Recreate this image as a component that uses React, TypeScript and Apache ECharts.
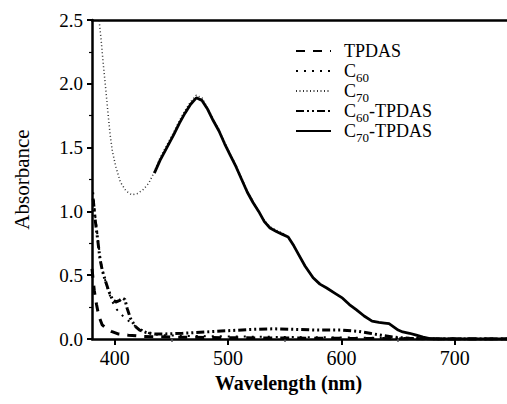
import React, { useEffect, useRef } from "react";
import * as echarts from "echarts";

// ---- data (wavelength nm, absorbance) ----
const tpdasWl = [380, 382, 384, 386, 389, 393, 397, 403, 412, 425, 450, 500, 600, 700, 746];
const tpdasAbs = [0.55, 0.38, 0.27, 0.18, 0.11, 0.08, 0.06, 0.04, 0.03, 0.02, 0.015, 0.01, 0.005, 0.0, 0.0];

const c60Wl = [381, 383, 385, 387, 389, 392, 395, 398, 402, 406, 410, 415, 420, 425, 432, 440, 460, 500, 560, 620, 680, 746];
const c60Abs = [1.15, 0.95, 0.8, 0.65, 0.54, 0.45, 0.36, 0.29, 0.23, 0.19, 0.16, 0.12, 0.09, 0.065, 0.04, 0.03, 0.025, 0.02, 0.015, 0.01, 0.005, 0.0];

const c70Wl = [386, 388, 390, 392, 394, 396, 398, 401, 405, 410, 415, 420, 425, 430, 435, 440, 446, 452, 457, 462, 467, 472, 477, 482, 487, 492, 497, 502, 507, 512, 517, 522, 527, 532, 537, 543, 548, 553, 558, 563, 568, 575, 581, 587, 594, 601, 607, 613, 620, 627, 633, 638, 642, 646, 650, 654, 660, 666, 672, 677, 685, 700, 720, 746];
const c70Abs = [2.52, 2.35, 2.15, 1.97, 1.78, 1.6, 1.47, 1.35, 1.23, 1.16, 1.13, 1.14, 1.17, 1.22, 1.31, 1.42, 1.52, 1.62, 1.71, 1.79, 1.86, 1.91, 1.89, 1.81, 1.72, 1.64, 1.54, 1.45, 1.36, 1.26, 1.16, 1.08, 1.0, 0.93, 0.88, 0.85, 0.83, 0.8, 0.73, 0.65, 0.57, 0.48, 0.43, 0.4, 0.36, 0.32, 0.27, 0.23, 0.18, 0.14, 0.13, 0.125, 0.12, 0.095, 0.07, 0.055, 0.045, 0.03, 0.015, 0.005, 0.0, 0.0, 0.0, 0.0];

const c60TpdasWl = [381, 383, 385, 387, 389, 392, 395, 398, 401, 404, 407, 409, 411, 414, 418, 422, 428, 435, 445, 460, 480, 500, 520, 540, 560, 580, 600, 615, 625, 635, 645, 660, 680, 746];
const c60TpdasAbs = [1.1, 0.92, 0.78, 0.63, 0.54, 0.45, 0.37, 0.31, 0.29, 0.3, 0.32, 0.31, 0.24, 0.16, 0.1, 0.07, 0.05, 0.04, 0.04, 0.045, 0.055, 0.065, 0.075, 0.08, 0.075, 0.07, 0.07, 0.06, 0.045, 0.03, 0.015, 0.005, 0.0, 0.0];

const c70TpdasWl = [435, 440, 446, 452, 457, 462, 467, 472, 477, 482, 487, 492, 497, 502, 507, 512, 517, 522, 527, 532, 537, 543, 548, 553, 558, 563, 568, 575, 581, 587, 594, 601, 607, 613, 620, 627, 633, 638, 642, 646, 650, 654, 660, 666, 672, 677, 685, 700, 720, 746];
const c70TpdasAbs = [1.3, 1.4, 1.5, 1.6, 1.69, 1.77, 1.84, 1.89, 1.87, 1.8, 1.71, 1.63, 1.53, 1.44, 1.35, 1.25, 1.15, 1.07, 1.0, 0.92, 0.87, 0.84, 0.82, 0.8, 0.73, 0.65, 0.57, 0.48, 0.43, 0.4, 0.36, 0.32, 0.27, 0.23, 0.18, 0.14, 0.13, 0.125, 0.12, 0.095, 0.07, 0.055, 0.045, 0.03, 0.015, 0.005, 0.0, 0.0, 0.0, 0.0];

const xMajorTicks = [400, 500, 600, 700];
const xMinorTicks = [450, 550, 650];

const legendLabels: Record<string, string> = {
  TPDAS: "{n|TPDAS}",
  C60: "{n|C}{s|60}",
  C70: "{n|C}{s|70}",
  "C60-TPDAS": "{n|C}{s|60}{n|-TPDAS}",
  "C70-TPDAS": "{n|C}{s|70}{n|-TPDAS}",
};

const zip = (xs: number[], ys: number[]) => xs.map((x, i) => [x, ys[i]]);

const FONT = "Liberation Serif";

export default function App() {
  const ref = useRef<HTMLDivElement>(null);
  useEffect(() => {
    if (!ref.current) return;
    const chart = echarts.init(ref.current, undefined, { renderer: "svg" });
    const axisLine = { show: true, lineStyle: { color: "#000", width: 2.5 } };
    chart.setOption({
      animation: false,
      backgroundColor: "#fff",
      grid: { left: 92, top: 20, right: 0, bottom: 65, containLabel: false },
      legend: {
        orient: "vertical",
        left: 290,
        top: 33,
        itemWidth: 35,
        itemHeight: 14,
        itemGap: -6,
        itemStyle: { opacity: 0 },
        data: ["TPDAS", "C60", "C70", "C60-TPDAS", "C70-TPDAS"],
        formatter: (name: string) => legendLabels[name] ?? name,
        textStyle: {
          fontFamily: FONT,
          color: "#000",
          fontSize: 18,
          lineHeight: 26,
          padding: [0, 0, 0, 8],
          rich: {
            n: { fontFamily: FONT, fontSize: 18, lineHeight: 26, color: "#000" },
            s: { fontFamily: FONT, fontSize: 13, lineHeight: 26, verticalAlign: "bottom", color: "#000" },
          },
        },
      },
      xAxis: [
        {
          type: "value",
          min: 380,
          max: 746,
          position: "bottom",
          axisLine,
          splitLine: { show: false },
          axisTick: { show: true, length: 6, lineStyle: { width: 2 }, customValues: xMajorTicks },
          axisLabel: { customValues: xMajorTicks, fontSize: 20, fontFamily: FONT, color: "#000", margin: 9 },
          name: "Wavelength (nm)",
          nameLocation: "middle",
          nameGap: 31,
          nameTextStyle: { fontFamily: FONT, fontSize: 20, fontWeight: "bold", color: "#000", padding: [0, 22, 0, 0] },
        },
        {
          type: "value",
          min: 380,
          max: 746,
          position: "top",
          axisLine,
          splitLine: { show: false },
          axisTick: { show: false },
          axisLabel: { show: false },
        },
        {
          type: "value",
          min: 380,
          max: 746,
          position: "bottom",
          axisLine: { show: false },
          splitLine: { show: false },
          axisTick: { show: true, length: 3, lineStyle: { width: 1.5 }, customValues: xMinorTicks },
          axisLabel: { show: false },
        },
      ],
      yAxis: {
        type: "value",
        min: 0,
        max: 2.5,
        interval: 0.5,
        axisLine,
        splitLine: { show: false },
        axisTick: { show: true, length: 5, lineStyle: { width: 2 } },
        minorTick: { show: true, splitNumber: 2, length: 3, lineStyle: { color: "#000", width: 1.2 } },
        axisLabel: {
          fontSize: 19,
          fontFamily: FONT,
          color: "#000",
          margin: 9,
          formatter: (v: number) => v.toFixed(1),
        },
        name: "Absorbance",
        nameLocation: "middle",
        nameGap: 60,
        nameTextStyle: { fontFamily: FONT, fontSize: 21, color: "#000" },
      },
      series: [
        {
          name: "TPDAS",
          type: "line",
          data: zip(tpdasWl, tpdasAbs),
          symbol: "none",
          lineStyle: { color: "#000", width: 3, type: [9, 8] },
          itemStyle: { color: "#000" },
        },
        {
          name: "C60",
          type: "line",
          data: zip(c60Wl, c60Abs),
          symbol: "none",
          lineStyle: { color: "#000", width: 2, type: [2, 6] },
          itemStyle: { color: "#000" },
        },
        {
          name: "C70",
          type: "line",
          data: zip(c70Wl, c70Abs),
          symbol: "none",
          lineStyle: { color: "#333", width: 1.5, type: [1, 2.5] },
          itemStyle: { color: "#333" },
        },
        {
          name: "C60-TPDAS",
          type: "line",
          data: zip(c60TpdasWl, c60TpdasAbs),
          symbol: "none",
          lineStyle: { color: "#000", width: 3, type: [8, 3, 2, 3, 2, 3] },
          itemStyle: { color: "#000" },
        },
        {
          name: "C70-TPDAS",
          type: "line",
          data: zip(c70TpdasWl, c70TpdasAbs),
          symbol: "none",
          lineStyle: { color: "#000", width: 2.8, type: "solid" },
          itemStyle: { color: "#000" },
        },
      ],
    });
    return () => chart.dispose();
  }, []);
  return (
    <div
      ref={ref}
      style={{ position: "fixed", left: 0, top: 0, width: 507, height: 404, background: "#fff" }}
    />
  );
}
